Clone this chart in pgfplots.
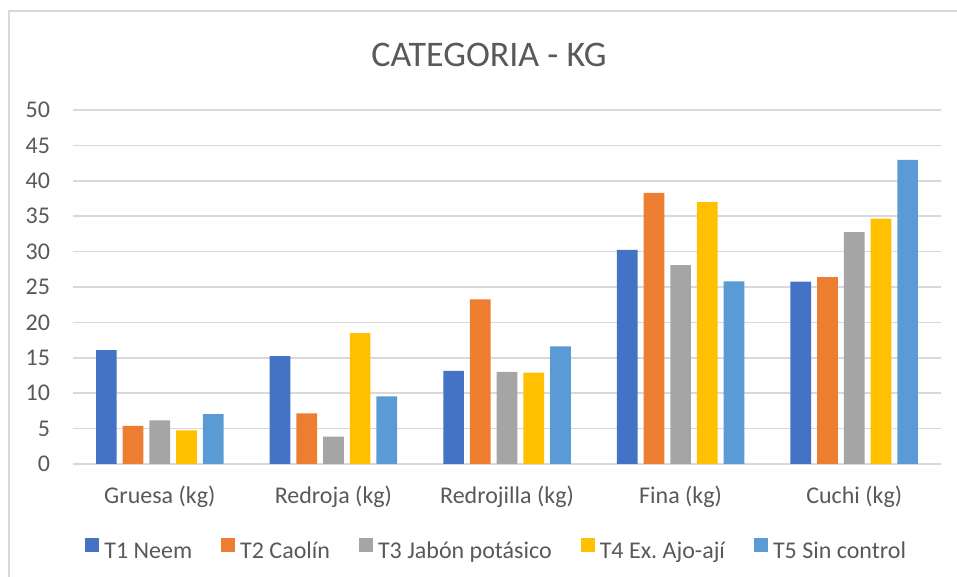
\documentclass[border=0pt]{standalone}
\usepackage{fontspec}
\setmainfont{Carlito}
\usepackage{pgfplots}
\pgfplotsset{compat=1.18}
\definecolor{cA}{HTML}{4472C4}
\definecolor{cB}{HTML}{ED7D31}
\definecolor{cC}{HTML}{A5A5A5}
\definecolor{cD}{HTML}{FFC000}
\definecolor{cE}{HTML}{5B9BD5}
\definecolor{tc}{HTML}{595959}
\definecolor{gc}{HTML}{D9D9D9}
\begin{document}
\begin{tikzpicture}
\useasboundingbox (-36.5pt,-56.5pt) rectangle (442pt,232pt);
\draw[gc, line width=0.6pt] (-32pt,-60pt) -- (-32pt,226.5pt) -- (450pt,226.5pt);
\node[anchor=base, text=tc, font=\fontsize{18}{21}\selectfont, inner sep=0pt] at (208pt,198.7pt) {CATEGORIA - KG};
\begin{axis}[
  at={(0pt,0pt)}, anchor=south west,
  scale only axis, width=434pt, height=177pt,
  ybar=3pt, bar width=10.35pt,
  xmin=-0.5, xmax=4.5, ymin=0, ymax=50,
  ytick={0,5,...,50},
  xtick={0,1,2,3,4},
  xticklabels={Gruesa (kg), Redroja (kg), Redrojilla (kg), Fina (kg), Cuchi (kg)},
  axis line style={draw=none},
  major tick length=0pt,
  ymajorgrids, grid style={gc, line width=0.75pt},
  /pgf/number format/assume math mode=true,
  tick label style={font=\fontsize{12}{14}\selectfont, text=tc, inner sep=0pt},
  yticklabel style={anchor=east, xshift=-11.3pt},
  xticklabel style={anchor=base, yshift=-19.8pt},
  legend columns=5,
  legend style={draw=none, fill=none, at={(0.487,-0.243)}, anchor=center,
    font=\fontsize{12}{14}\selectfont, text=tc, inner sep=0pt,
    nodes={inner sep=0pt},
    /tikz/every odd column/.append style={column sep=2.5pt},
    /tikz/every even column/.append style={column sep=14.5pt}},
  legend image code/.code={\fill[#1] (0pt,0pt) rectangle (7pt,6.7pt);},
]
\addplot[fill=cA, draw=none] coordinates {(0,16.1) (1,15.25) (2,13.15) (3,30.25) (4,25.75)};
\addplot[fill=cB, draw=none] coordinates {(0,5.4) (1,7.15) (2,23.25) (3,38.3) (4,26.4)};
\addplot[fill=cC, draw=none] coordinates {(0,6.15) (1,3.85) (2,13.0) (3,28.1) (4,32.75)};
\addplot[fill=cD, draw=none] coordinates {(0,4.75) (1,18.5) (2,12.9) (3,37.0) (4,34.65)};
\addplot[fill=cE, draw=none] coordinates {(0,7.05) (1,9.55) (2,16.6) (3,25.8) (4,42.95)};
\legend{T1 Neem, T2 Caolín, T3 Jabón potásico, T4 Ex.\ Ajo-ají, T5 Sin control}
\end{axis}
\end{tikzpicture}
\end{document}
